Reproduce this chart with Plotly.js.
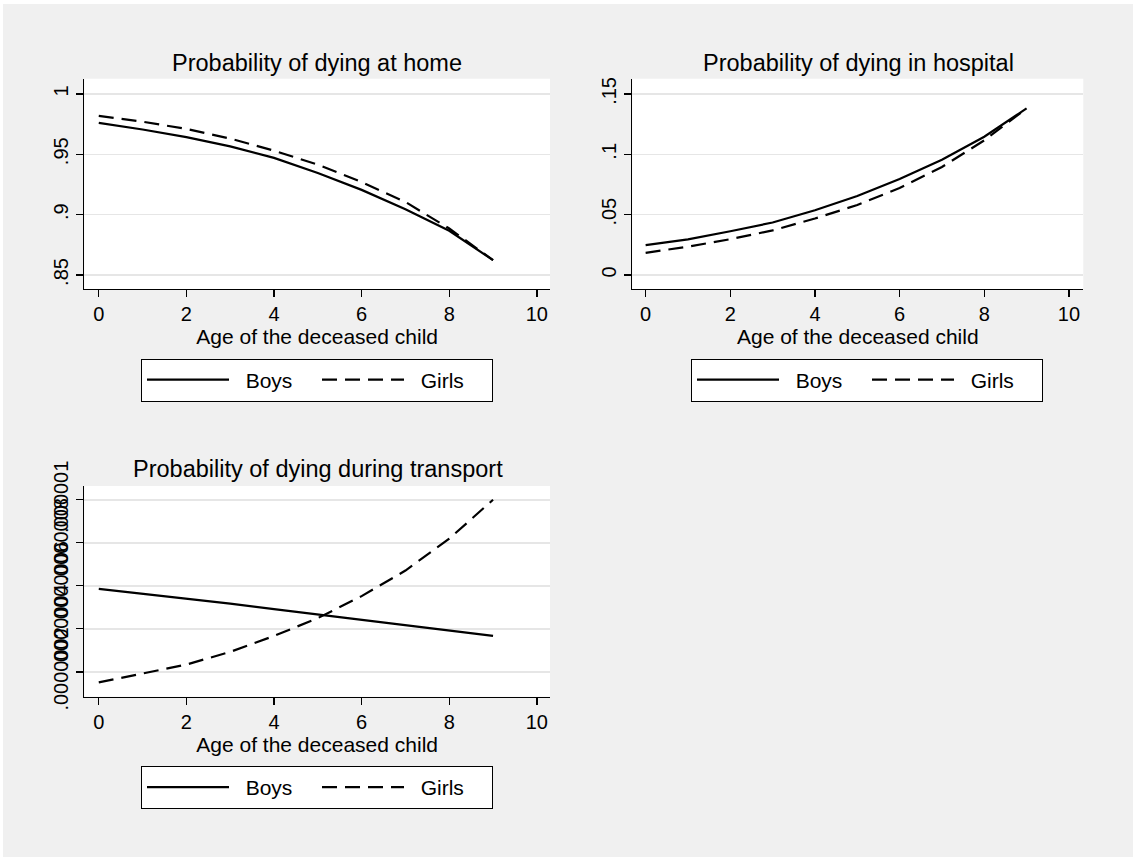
<!DOCTYPE html>
<html>
<head>
<meta charset="utf-8">
<script src="https://cdn.plot.ly/plotly-3.0.1.min.js"></script>
<style>html,body{margin:0;padding:0;background:#fff;}#chart{width:1133px;height:857px;}</style>
</head>
<body>
<div id="chart"></div>
<script>
// ---- data ----
var age = [0, 1, 2, 3, 4, 5, 6, 7, 8, 9];
var homeBoys  = [0.976, 0.9705, 0.9642, 0.9565, 0.947, 0.9345, 0.9205, 0.9045, 0.8866, 0.8623];
var homeGirls = [0.9818, 0.977, 0.971, 0.963, 0.953, 0.9414, 0.927, 0.9105, 0.8885, 0.8623];
var hospBoys  = [0.0248, 0.0295, 0.0363, 0.0435, 0.0537, 0.0655, 0.0795, 0.0955, 0.1145, 0.138];
var hospGirls = [0.0184, 0.0235, 0.0297, 0.037, 0.0468, 0.058, 0.072, 0.0895, 0.1115, 0.138];
var transBoys  = [5.86e-7, 5.64e-7, 5.42e-7, 5.17e-7, 4.92e-7, 4.67e-7, 4.41e-7, 4.17e-7, 3.94e-7, 3.67e-7];
var transGirls = [1.51e-7, 1.92e-7, 2.34e-7, 2.93e-7, 3.67e-7, 4.5e-7, 5.52e-7, 6.71e-7, 8.19e-7, 1.0e-6];
var xTicks = [0, 2, 4, 6, 8, 10];
var homeTickVals = [0.85, 0.9, 0.95, 1];
var homeTickText = ['.85', '.9', '.95', '1'];
var hospTickVals = [0, 0.05, 0.1, 0.15];
var hospTickText = ['0', '.05', '.1', '.15'];
var transTickVals = [2e-7, 4e-7, 6e-7, 8e-7, 1e-6];
var transTickText = ['.0000002', '.0000004', '.0000006', '.0000008', '.000001'];
var panelTitles = ['Probability of dying at home', 'Probability of dying in hospital', 'Probability of dying during transport'];
var xTitle = 'Age of the deceased child';
var seriesNames = ['Boys', 'Girls'];

// ---- styling ----
var FONT = 'Liberation Sans, Arial, Helvetica, sans-serif';
var W = 1133, H = 857;
function px(x) { return x / W; }
function py(y) { return (H - y) / H; }
var solid = {color: '#000', width: 2.2, dash: 'solid'};
var dashed = {color: '#000', width: 2.2, dash: '15px,8px'};
var NB = '\u00a0\u00a0';

var traces = [
  {x: age, y: homeBoys, name: NB + seriesNames[0], mode: 'lines', line: solid, xaxis: 'x', yaxis: 'y', legend: 'legend'},
  {x: age, y: homeGirls, name: NB + seriesNames[1], mode: 'lines', line: dashed, xaxis: 'x', yaxis: 'y', legend: 'legend'},
  {x: age, y: hospBoys, name: NB + seriesNames[0], mode: 'lines', line: solid, xaxis: 'x2', yaxis: 'y2', legend: 'legend2'},
  {x: age, y: hospGirls, name: NB + seriesNames[1], mode: 'lines', line: dashed, xaxis: 'x2', yaxis: 'y2', legend: 'legend2'},
  {x: age, y: transBoys, name: NB + seriesNames[0], mode: 'lines', line: solid, xaxis: 'x3', yaxis: 'y3', legend: 'legend3'},
  {x: age, y: transGirls, name: NB + seriesNames[1], mode: 'lines', line: dashed, xaxis: 'x3', yaxis: 'y3', legend: 'legend3'}
];

function xAxis(domain, anchor, range) {
  return {
    domain: domain, anchor: anchor, range: range,
    tickmode: 'array', tickvals: xTicks,
    ticks: 'outside', ticklen: 7, tickwidth: 1.3, tickcolor: '#000',
    showline: true, linecolor: '#000', linewidth: 1.3,
    showgrid: false, zeroline: false,
    tickfont: {family: FONT, size: 20, color: '#000'},
    title: {text: xTitle, font: {family: FONT, size: 21, color: '#000'}, standoff: 2}
  };
}
function yAxis(domain, anchor, range, vals, text) {
  return {
    domain: domain, anchor: anchor, range: range,
    tickmode: 'array', tickvals: vals, ticktext: text, tickangle: -90,
    ticks: 'outside', ticklen: 7, tickwidth: 1.3, tickcolor: '#000',
    showline: true, linecolor: '#000', linewidth: 1.3,
    showgrid: true, gridcolor: '#e6e6e6', gridwidth: 1.5, zeroline: false,
    tickfont: {family: FONT, size: 20, color: '#000'}
  };
}
function legendBox(xc, ytop) {
  return {
    orientation: 'h', x: px(xc), xanchor: 'center', y: py(ytop), yanchor: 'top',
    bgcolor: '#fff', bordercolor: '#000', borderwidth: 1,
    font: {family: FONT, size: 21, color: '#000'},
    itemwidth: 82, entrywidth: 78, entrywidthmode: 'pixels',
    itemclick: false, itemdoubleclick: false
  };
}

var xL = [px(84.3), px(550)], xR = [px(632.3), px(1083.3)];
var yTop = [py(289), py(78.7)], yBot = [py(696.7), py(486)];

var layout = {
  width: W, height: H,
  margin: {l: 0, r: 0, t: 0, b: 0},
  paper_bgcolor: '#f0f0f0', plot_bgcolor: '#fff',
  font: {family: FONT, color: '#000'},
  showlegend: true,
  xaxis: xAxis(xL, 'y', [-0.33, 10.3]),
  yaxis: yAxis(yTop, 'x', [0.8384, 1.0126], homeTickVals, homeTickText),
  xaxis2: xAxis(xR, 'y2', [-0.315, 10.34]),
  yaxis2: yAxis(yTop, 'x2', [-0.01156, 0.1626], hospTickVals, hospTickText),
  xaxis3: xAxis(xL, 'y3', [-0.33, 10.3]),
  yaxis3: yAxis(yBot, 'x3', [0.846e-7, 1.064e-6], transTickVals, transTickText),
  legend: legendBox(317, 358.5),
  legend2: legendBox(867, 358.5),
  legend3: legendBox(317, 766),
  annotations: [
    {text: panelTitles[0], xref: 'paper', yref: 'paper', x: px(317), y: py(63), xanchor: 'center', yanchor: 'middle', showarrow: false, font: {family: FONT, size: 23.5, color: '#000'}},
    {text: panelTitles[1], xref: 'paper', yref: 'paper', x: px(858), y: py(63), xanchor: 'center', yanchor: 'middle', showarrow: false, font: {family: FONT, size: 23.5, color: '#000'}},
    {text: panelTitles[2], xref: 'paper', yref: 'paper', x: px(318), y: py(469), xanchor: 'center', yanchor: 'middle', showarrow: false, font: {family: FONT, size: 23.5, color: '#000'}}
  ],
  shapes: [
    {type: 'rect', xref: 'paper', yref: 'paper', x0: 0, x1: 1, y0: py(4), y1: 1, fillcolor: '#fff', line: {width: 0}, layer: 'below'},
    {type: 'rect', xref: 'paper', yref: 'paper', x0: 0, x1: px(3), y0: 0, y1: 1, fillcolor: '#fff', line: {width: 0}, layer: 'below'}
  ]
};

Plotly.newPlot('chart', traces, layout, {displayModeBar: false, staticPlot: true});
</script>
</body>
</html>
